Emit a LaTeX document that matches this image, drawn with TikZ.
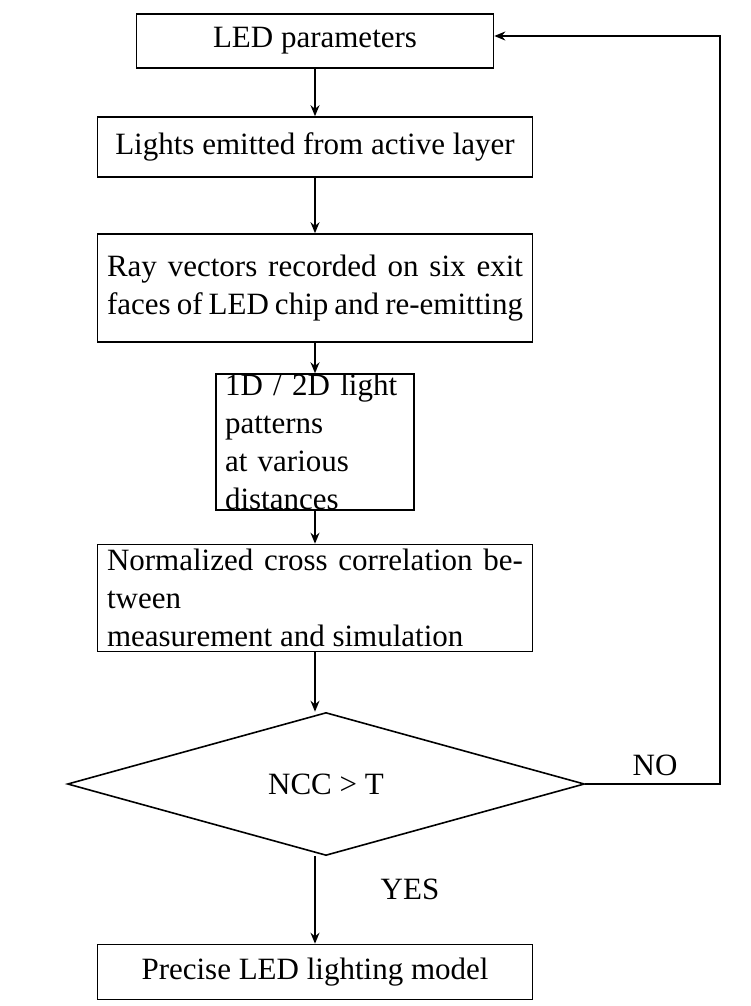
\documentclass[tikz,border=0pt]{standalone}
\usepackage{fontspec}
\setmainfont{Liberation Serif}
\usetikzlibrary{shapes.geometric,arrows.meta}
\begin{document}
\begin{tikzpicture}[x=1pt,y=-1pt,
  box/.style={draw,line width=1.6pt,inner sep=0pt,font=\fontsize{31}{38}\selectfont},
  arr/.style={line width=1.5pt,-{Stealth[length=11pt,width=9pt]}},
  lbl/.style={font=\fontsize{31}{36}\selectfont}]
\useasboundingbox (0,0) rectangle (750,1006);
\node[box,minimum width=357,minimum height=54] (a) at (315,41) {LED parameters};
\node[box,minimum width=435,minimum height=60] (b) at (315,147) {Lights emitted from active layer};
\node[box,minimum width=435,minimum height=108,text width=416,align=justify] (c) at (315,288) {Ray vectors recorded on six exit\linebreak faces of LED chip and re-emitting};
\node[box,minimum width=198,minimum height=95,text width=180,align=left] (d) at (315,442) {1D / 2D light patterns\\at various distances};
\node[box,minimum width=435,minimum height=107,text width=416,align=justify] (e) at (315,598) {Normalized cross correlation between\linebreak measurement and simulation};
\node[draw,line width=1.6pt,diamond,aspect=3.6,minimum width=517,minimum height=143,inner sep=0pt,font=\fontsize{31}{36}\selectfont] (f) at (326,784) {NCC > T};
\node[box,minimum width=435,minimum height=55] (g) at (315,972) {Precise LED lighting model};
\coordinate (r1) at (720,784);
\coordinate (r2) at (720,36);
\draw[arr] (a) -- (b);
\draw[arr] (b) -- (c);
\draw[arr] (c) -- (d);
\draw[arr] (d) -- (e);
\draw[arr] (e.south) -- (e.south|-f.north);
\draw[arr] (f.south-|g.north) -- (g);
\draw[arr] (f.east) -- (r1) -- (r2) -- (a.east|-r2);
\node[lbl] (no) at (655,765) {NO};
\node[lbl] (yes) at (410,889) {YES};
\end{tikzpicture}
\end{document}
